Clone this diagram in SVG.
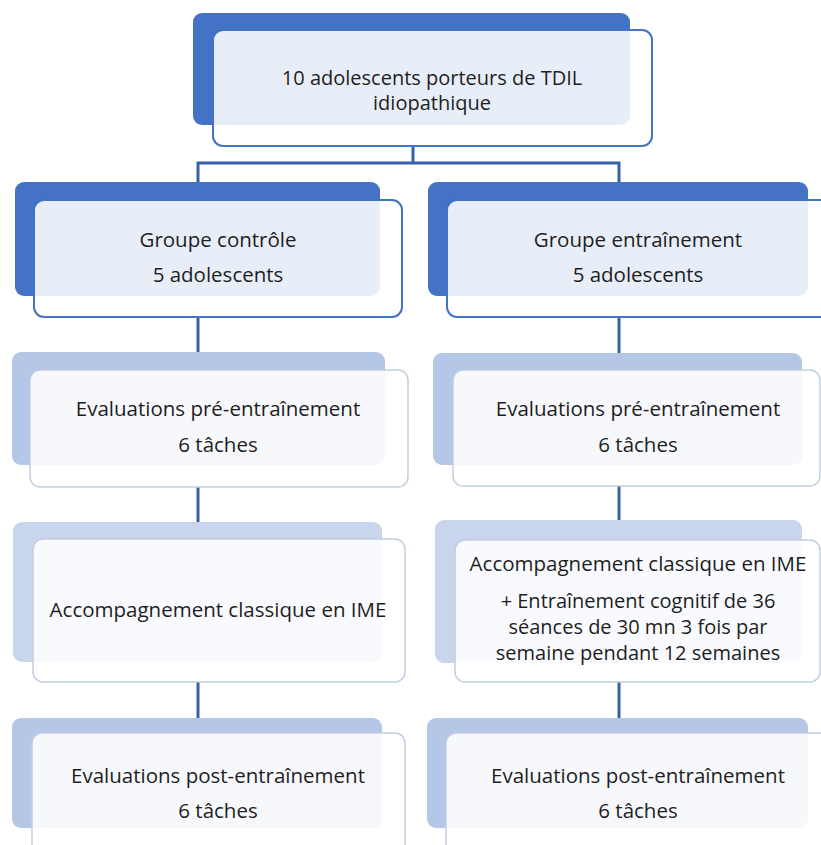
<svg xmlns="http://www.w3.org/2000/svg" width="821" height="845" viewBox="0 0 821 845">
  <style>
    .bg { fill: #ffffff; }
    .back-dark { fill: #4472c4; }
    .back-light { fill: #b4c7e7; }
    .back-pale { fill: #c8d5ed; }
    .front-dark { fill: #ffffff; fill-opacity: 0.88; stroke: #4472c4; stroke-width: 2; }
    .front-light { fill: #ffffff; fill-opacity: 0.88; stroke: #c3cde0; stroke-width: 1.5; }
    .link { fill: none; stroke: #3560ad; stroke-width: 3; }
    text { font-family: "Open Sans", "Liberation Sans", sans-serif; font-size: 20.5px; fill: #1e1e1e; text-anchor: middle; }
    .tight { font-size: 20px; }
  </style>

  <rect class="bg" x="0" y="0" width="821" height="845"/>

  <!-- connectors -->
  <g id="connectors">
    <polyline class="link" points="413,146 413,163"/>
    <polyline class="link" points="198,183 198,163 619,163 619,183"/>
    <line class="link" x1="198" y1="317" x2="198" y2="352"/>
    <line class="link" x1="198" y1="487" x2="198" y2="522"/>
    <line class="link" x1="198" y1="682" x2="198" y2="718"/>
    <line class="link" x1="619" y1="317" x2="619" y2="353"/>
    <line class="link" x1="619" y1="486" x2="619" y2="520"/>
    <line class="link" x1="619" y1="682" x2="619" y2="718"/>
  </g>

  <!-- root -->
  <g id="root">
    <rect class="back-dark" x="193" y="13" width="437" height="112" rx="9"/>
    <rect class="front-dark" x="213" y="30" width="439" height="116" rx="10"/>
    <text class="tight" x="432" y="85">10 adolescents porteurs de TDIL</text>
    <text class="tight" x="432" y="110">idiopathique</text>
  </g>

  <!-- control group -->
  <g id="groupe-controle">
    <rect class="back-dark" x="15" y="182" width="365" height="114" rx="9"/>
    <rect class="front-dark" x="34" y="200" width="368" height="117" rx="10"/>
    <text x="218" y="247">Groupe contrôle</text>
    <text x="218" y="282">5 adolescents</text>
  </g>

  <!-- training group -->
  <g id="groupe-entrainement">
    <rect class="back-dark" x="428" y="182" width="380" height="114" rx="9"/>
    <rect class="front-dark" x="447" y="200" width="385" height="117" rx="10"/>
    <text x="638" y="247">Groupe entraînement</text>
    <text x="638" y="282">5 adolescents</text>
  </g>

  <!-- pre-training evaluations -->
  <g id="pre-controle">
    <rect class="back-light" x="12" y="352" width="373" height="113" rx="9"/>
    <rect class="front-light" x="30" y="370" width="378" height="117" rx="10"/>
    <text x="218" y="416">Evaluations pré-entraînement</text>
    <text x="218" y="452">6 tâches</text>
  </g>
  <g id="pre-entrainement">
    <rect class="back-light" x="433" y="353" width="369" height="112" rx="9"/>
    <rect class="front-light" x="453" y="370" width="367" height="116" rx="10"/>
    <text x="638" y="416">Evaluations pré-entraînement</text>
    <text x="638" y="452">6 tâches</text>
  </g>

  <!-- support phase -->
  <g id="accompagnement-controle">
    <rect class="back-pale" x="13" y="522" width="369" height="140" rx="9"/>
    <rect class="front-light" x="33" y="539" width="372" height="143" rx="10"/>
    <text x="218" y="617">Accompagnement classique en IME</text>
  </g>
  <g id="accompagnement-entrainement">
    <rect class="back-pale" x="435" y="520" width="367" height="143" rx="9"/>
    <rect class="front-light" x="455" y="540" width="365" height="142" rx="10"/>
    <text x="638" y="571">Accompagnement classique en IME</text>
    <text class="tight" x="638" y="608">+ Entraînement cognitif de 36</text>
    <text class="tight" x="638" y="634">séances de 30 mn 3 fois par</text>
    <text class="tight" x="638" y="660">semaine pendant 12 semaines</text>
  </g>

  <!-- post-training evaluations -->
  <g id="post-controle">
    <rect class="back-light" x="12" y="718" width="370" height="110" rx="9"/>
    <rect class="front-light" x="32" y="733" width="373" height="125" rx="10"/>
    <text x="218" y="783">Evaluations post-entraînement</text>
    <text x="218" y="818">6 tâches</text>
  </g>
  <g id="post-entrainement">
    <rect class="back-light" x="427" y="718" width="381" height="110" rx="9"/>
    <rect class="front-light" x="446" y="733" width="385" height="125" rx="10"/>
    <text x="638" y="783">Evaluations post-entraînement</text>
    <text x="638" y="818">6 tâches</text>
  </g>
</svg>
